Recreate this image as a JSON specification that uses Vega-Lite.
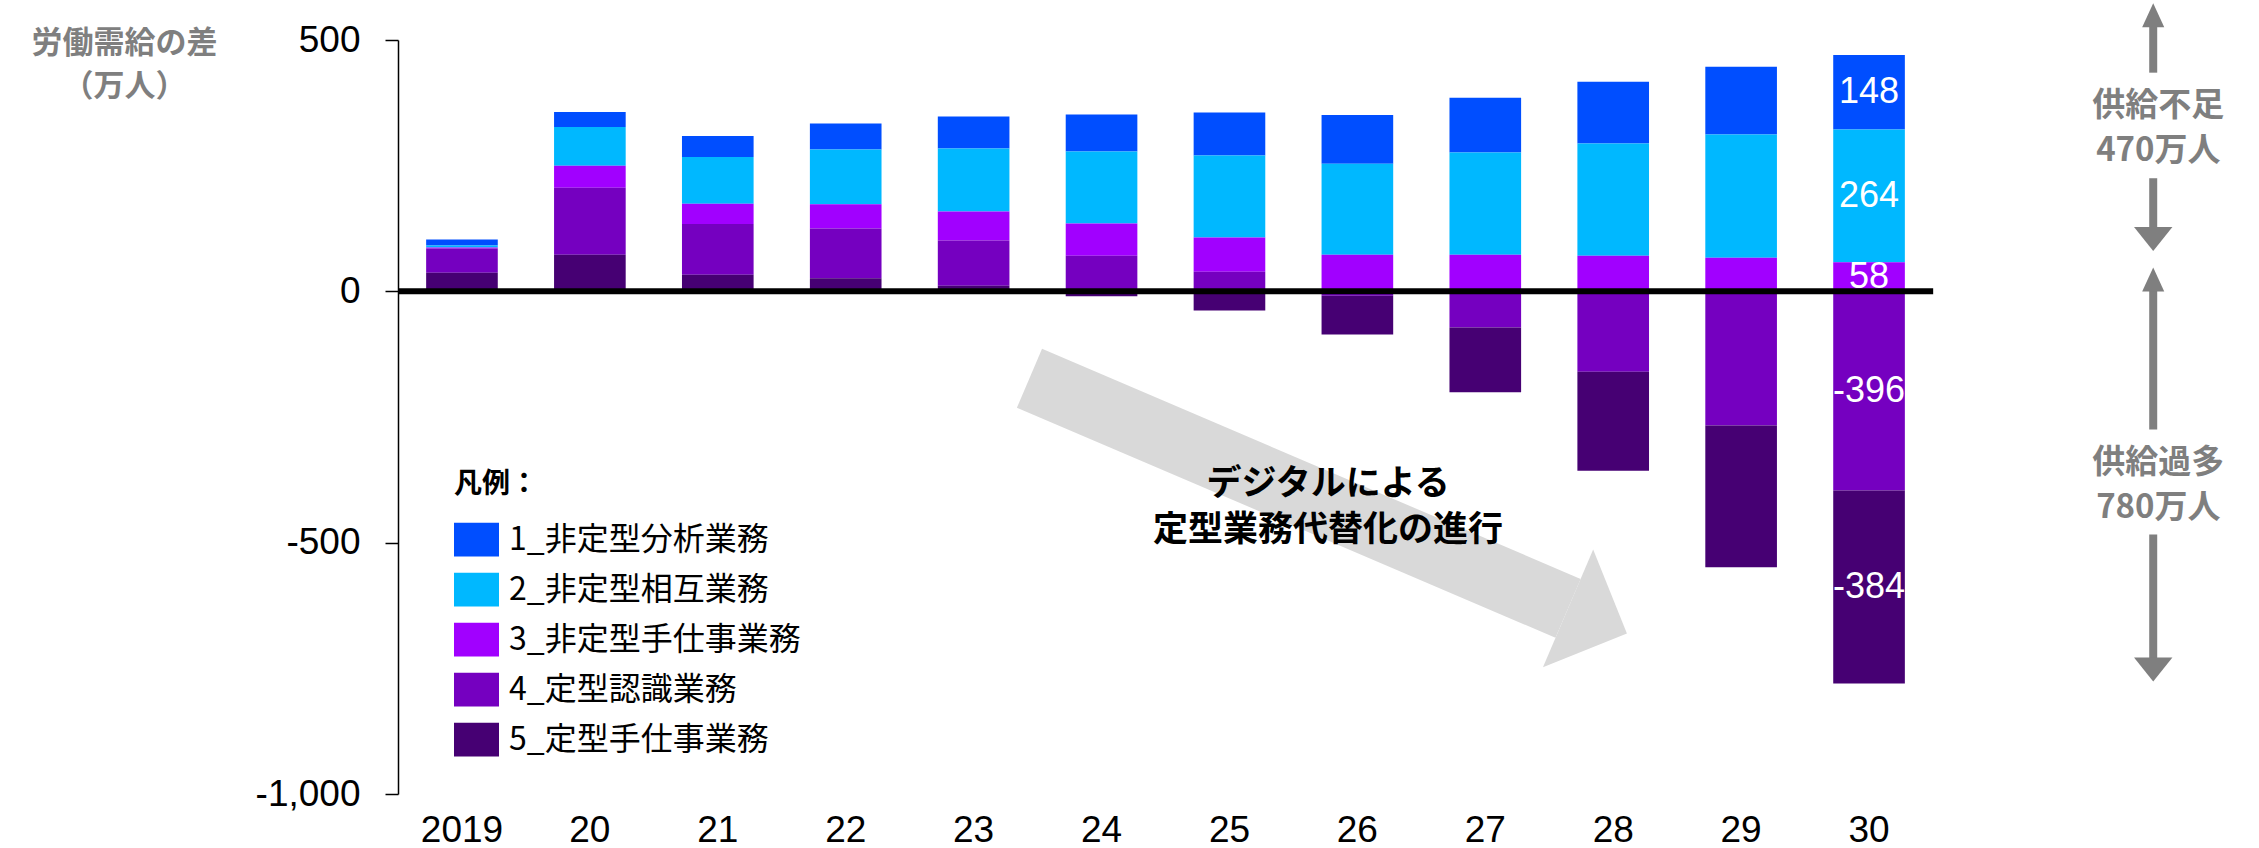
{
  "$schema": "https://vega.github.io/schema/vega-lite/v6.json",
  "width": 1855,
  "height": 754,
  "autosize": {"type": "none"},
  "padding": {"left": 398, "top": 40, "right": 6, "bottom": 54},
  "config": {
    "view": {"stroke": null},
    "font": "Liberation Sans",
    "locale": {"number": {"decimal": ".", "thousands": ",", "grouping": [3], "currency": ["$", ""], "minus": "-"}}
  },
  "datasets": {
    "需給": [
      {"年": "2019", "区分": "1_非定型分析業務", "値": 12},
      {"年": "2019", "区分": "2_非定型相互業務", "値": 4},
      {"年": "2019", "区分": "3_非定型手仕事業務", "値": 2},
      {"年": "2019", "区分": "4_定型認識業務", "値": 48},
      {"年": "2019", "区分": "5_定型手仕事業務", "値": 37},
      {"年": "20", "区分": "1_非定型分析業務", "値": 30},
      {"年": "20", "区分": "2_非定型相互業務", "値": 77},
      {"年": "20", "区分": "3_非定型手仕事業務", "値": 44},
      {"年": "20", "区分": "4_定型認識業務", "値": 133},
      {"年": "20", "区分": "5_定型手仕事業務", "値": 73},
      {"年": "21", "区分": "1_非定型分析業務", "値": 42},
      {"年": "21", "区分": "2_非定型相互業務", "値": 93},
      {"年": "21", "区分": "3_非定型手仕事業務", "値": 40},
      {"年": "21", "区分": "4_定型認識業務", "値": 101},
      {"年": "21", "区分": "5_定型手仕事業務", "値": 33},
      {"年": "22", "区分": "1_非定型分析業務", "値": 52},
      {"年": "22", "区分": "2_非定型相互業務", "値": 109},
      {"年": "22", "区分": "3_非定型手仕事業務", "値": 48},
      {"年": "22", "区分": "4_定型認識業務", "値": 99},
      {"年": "22", "区分": "5_定型手仕事業務", "値": 26},
      {"年": "23", "区分": "1_非定型分析業務", "値": 64},
      {"年": "23", "区分": "2_非定型相互業務", "値": 125},
      {"年": "23", "区分": "3_非定型手仕事業務", "値": 58},
      {"年": "23", "区分": "4_定型認識業務", "値": 90},
      {"年": "23", "区分": "5_定型手仕事業務", "値": 11},
      {"年": "24", "区分": "1_非定型分析業務", "値": 74},
      {"年": "24", "区分": "2_非定型相互業務", "値": 143},
      {"年": "24", "区分": "3_非定型手仕事業務", "値": 64},
      {"年": "24", "区分": "4_定型認識業務", "値": 71},
      {"年": "24", "区分": "5_定型手仕事業務", "値": -10},
      {"年": "25", "区分": "1_非定型分析業務", "値": 86},
      {"年": "25", "区分": "2_非定型相互業務", "値": 163},
      {"年": "25", "区分": "3_非定型手仕事業務", "値": 68},
      {"年": "25", "区分": "4_定型認識業務", "値": 39},
      {"年": "25", "区分": "5_定型手仕事業務", "値": -38},
      {"年": "26", "区分": "1_非定型分析業務", "値": 97},
      {"年": "26", "区分": "2_非定型相互業務", "値": 181},
      {"年": "26", "区分": "3_非定型手仕事業務", "値": 73},
      {"年": "26", "区分": "4_定型認識業務", "値": -9},
      {"年": "26", "区分": "5_定型手仕事業務", "値": -77},
      {"年": "27", "区分": "1_非定型分析業務", "値": 109},
      {"年": "27", "区分": "2_非定型相互業務", "値": 203},
      {"年": "27", "区分": "3_非定型手仕事業務", "値": 73},
      {"年": "27", "区分": "4_定型認識業務", "値": -72},
      {"年": "27", "区分": "5_定型手仕事業務", "値": -129},
      {"年": "28", "区分": "1_非定型分析業務", "値": 123},
      {"年": "28", "区分": "2_非定型相互業務", "値": 223},
      {"年": "28", "区分": "3_非定型手仕事業務", "値": 71},
      {"年": "28", "区分": "4_定型認識業務", "値": -160},
      {"年": "28", "区分": "5_定型手仕事業務", "値": -197},
      {"年": "29", "区分": "1_非定型分析業務", "値": 135},
      {"年": "29", "区分": "2_非定型相互業務", "値": 245},
      {"年": "29", "区分": "3_非定型手仕事業務", "値": 67},
      {"年": "29", "区分": "4_定型認識業務", "値": -267},
      {"年": "29", "区分": "5_定型手仕事業務", "値": -282},
      {"年": "30", "区分": "1_非定型分析業務", "値": 148},
      {"年": "30", "区分": "2_非定型相互業務", "値": 264},
      {"年": "30", "区分": "3_非定型手仕事業務", "値": 58},
      {"年": "30", "区分": "4_定型認識業務", "値": -396},
      {"年": "30", "区分": "5_定型手仕事業務", "値": -384}
    ],
    "灰矢印": [
      {"年位置": 2023.436, "値": -173},
      {"年位置": 2027.646, "値": -630.6}
    ],
    "灰矢印先": [
      {"年位置": 2027.646, "値": -630.6}
    ],
    "中央注記": [
      {"年位置": 2025.77, "値": -382.6, "文": "デジタルによる"},
      {"年位置": 2025.77, "値": -474, "文": "定型業務代替化の進行"}
    ],
    "右矢印軸": [
      {"年位置": 2032.22, "値": 532, "値2": 435},
      {"年位置": 2032.22, "値": 225, "値2": 122},
      {"年位置": 2032.22, "値": 6, "値2": -275},
      {"年位置": 2032.22, "値": -484, "値2": -737}
    ],
    "右矢印上": [
      {"年位置": 2032.22, "値": 549.3},
      {"年位置": 2032.22, "値": 23.3}
    ],
    "右矢印下": [
      {"年位置": 2032.22, "値": 104.3},
      {"年位置": 2032.22, "値": -752.5}
    ],
    "右注記": [
      {"年位置": 2032.26, "値": 400.9, "文": "供給不足\n470万人"},
      {"年位置": 2032.26, "値": -309.3, "文": "供給過多\n780万人"}
    ],
    "ゼロ線": [
      {"年位置": 2018.5, "年位置2": 2030.5, "値": 0}
    ]
  },
  "layer": [
    {
      "data": {"name": "需給"},
      "encoding": {
        "x": {
          "field": "年", "type": "nominal",
          "scale": {"domain": ["2019", "20", "21", "22", "23", "24", "25", "26", "27", "28", "29", "30"], "range": [0, 1535], "paddingInner": 0.44, "paddingOuter": 0.22},
          "axis": {"title": null, "domain": false, "ticks": false, "labelAngle": 0, "labelFont": "Liberation Sans", "labelFontSize": 37, "labelColor": "#000000", "labelPadding": 18}
        },
        "y": {
          "field": "値", "type": "quantitative",
          "scale": {"domain": [-1000, 500], "nice": false},
          "axis": {
            "title": ["労働需給の差", "（万人）"],
            "values": [500, 0, -500, -1000],
            "format": ",d",
            "grid": false,
            "domainColor": "#000000", "domainWidth": 1.5,
            "tickColor": "#000000", "tickSize": 13, "tickWidth": 1.5,
            "labelFont": "Liberation Sans", "labelFontSize": 37, "labelColor": "#000000", "labelPadding": 25,
            "labelFlush": false, "labelOverlap": false,
            "titleAngle": 0, "titleX": -274, "titleY": -12, "titleAlign": "center", "titleBaseline": "top",
            "titleFont": "Noto Sans CJK JP", "titleFontSize": 31, "titleFontWeight": "bold", "titleColor": "#7f7f7f", "titleLineHeight": 43
          }
        },
        "color": {
          "field": "区分", "type": "nominal",
          "scale": {
            "domain": ["1_非定型分析業務", "2_非定型相互業務", "3_非定型手仕事業務", "4_定型認識業務", "5_定型手仕事業務"],
            "range": ["#004EFF", "#00B8FF", "#A100FF", "#7500C0", "#460073"]
          },
          "legend": {
            "orient": "none", "direction": "vertical", "legendX": 56, "legendY": 431, "padding": 0,
            "title": "凡例：", "titleFont": "Noto Sans CJK JP", "titleFontSize": 28, "titleFontWeight": "bold", "titleColor": "#000000", "titlePadding": 18,
            "symbolType": "M-1,-0.75H1V0.75H-1Z", "symbolSize": 2025, "symbolStrokeWidth": 0, "symbolOpacity": 1,
            "labelFont": "Noto Sans CJK JP", "labelFontSize": 32, "labelColor": "#000000", "labelOffset": 10, "labelLimit": 0,
            "rowPadding": 10
          }
        }
      },
      "layer": [
        {
          "transform": [{"filter": "datum['値'] >= 0"}],
          "mark": {"type": "bar"},
          "encoding": {"order": {"field": "区分", "type": "ordinal", "sort": "descending"}}
        },
        {
          "transform": [{"filter": "datum['値'] < 0"}],
          "mark": {"type": "bar"},
          "encoding": {"order": {"field": "区分", "type": "ordinal", "sort": "ascending"}}
        }
      ]
    },
    {
      "layer": [
        {
          "data": {"name": "灰矢印"},
          "mark": {"type": "line", "color": "#d9d9d9", "strokeWidth": 64, "strokeCap": "butt"},
          "encoding": {
            "x": {"field": "年位置", "type": "quantitative", "scale": {"domain": [2018.5, 2033], "nice": false, "zero": false}, "axis": null},
            "y": {"field": "値", "type": "quantitative", "scale": {"domain": [-1000, 500], "nice": false}, "axis": null}
          }
        },
        {
          "data": {"name": "灰矢印先"},
          "mark": {"type": "point", "shape": "M0,-1L1,0L0,1Z", "size": 16384, "angle": 23.1, "filled": true, "color": "#d9d9d9", "opacity": 1, "strokeWidth": 0},
          "encoding": {
            "x": {"field": "年位置", "type": "quantitative", "scale": {"domain": [2018.5, 2033], "nice": false, "zero": false}, "axis": null},
            "y": {"field": "値", "type": "quantitative", "scale": {"domain": [-1000, 500], "nice": false}, "axis": null}
          }
        },
        {
          "data": {"name": "中央注記"},
          "mark": {"type": "text", "font": "Noto Sans CJK JP", "fontSize": 35, "fontWeight": "bold", "color": "#000000", "align": "center", "baseline": "middle"},
          "encoding": {
            "x": {"field": "年位置", "type": "quantitative", "scale": {"domain": [2018.5, 2033], "nice": false, "zero": false}, "axis": null},
            "y": {"field": "値", "type": "quantitative", "scale": {"domain": [-1000, 500], "nice": false}, "axis": null},
            "text": {"field": "文", "type": "nominal"}
          }
        },
        {
          "data": {"name": "右矢印軸"},
          "mark": {"type": "rule", "color": "#7f7f7f", "strokeWidth": 8},
          "encoding": {
            "x": {"field": "年位置", "type": "quantitative", "scale": {"domain": [2018.5, 2033], "nice": false, "zero": false}, "axis": null},
            "y": {"field": "値", "type": "quantitative", "scale": {"domain": [-1000, 500], "nice": false}, "axis": null},
            "y2": {"field": "値2"}
          }
        },
        {
          "data": {"name": "右矢印上"},
          "mark": {"type": "point", "shape": "M0,-1L0.92,1L-0.92,1Z", "size": 576, "filled": true, "color": "#7f7f7f", "opacity": 1, "strokeWidth": 0},
          "encoding": {
            "x": {"field": "年位置", "type": "quantitative", "scale": {"domain": [2018.5, 2033], "nice": false, "zero": false}, "axis": null},
            "y": {"field": "値", "type": "quantitative", "scale": {"domain": [-1000, 500], "nice": false}, "axis": null}
          }
        },
        {
          "data": {"name": "右矢印下"},
          "mark": {"type": "point", "shape": "M-1.6,-1L1.6,-1L0,1Z", "size": 576, "filled": true, "color": "#7f7f7f", "opacity": 1, "strokeWidth": 0},
          "encoding": {
            "x": {"field": "年位置", "type": "quantitative", "scale": {"domain": [2018.5, 2033], "nice": false, "zero": false}, "axis": null},
            "y": {"field": "値", "type": "quantitative", "scale": {"domain": [-1000, 500], "nice": false}, "axis": null}
          }
        },
        {
          "data": {"name": "右注記"},
          "mark": {"type": "text", "font": "Noto Sans CJK JP", "fontSize": 33, "fontWeight": "bold", "color": "#7f7f7f", "align": "center", "baseline": "top", "lineBreak": "\n", "lineHeight": 45},
          "encoding": {
            "x": {"field": "年位置", "type": "quantitative", "scale": {"domain": [2018.5, 2033], "nice": false, "zero": false}, "axis": null},
            "y": {"field": "値", "type": "quantitative", "scale": {"domain": [-1000, 500], "nice": false}, "axis": null},
            "text": {"field": "文", "type": "nominal"}
          }
        },
        {
          "data": {"name": "ゼロ線"},
          "mark": {"type": "rule", "color": "#000000", "strokeWidth": 6},
          "encoding": {
            "x": {"field": "年位置", "type": "quantitative", "scale": {"domain": [2018.5, 2033], "nice": false, "zero": false}, "axis": null},
            "x2": {"field": "年位置2"},
            "y": {"field": "値", "type": "quantitative", "scale": {"domain": [-1000, 500], "nice": false}, "axis": null}
          }
        }
      ]
    },
    {
      "data": {"name": "需給"},
      "encoding": {
        "x": {
          "field": "年", "type": "nominal",
          "scale": {"domain": ["2019", "20", "21", "22", "23", "24", "25", "26", "27", "28", "29", "30"], "range": [0, 1535], "paddingInner": 0.44, "paddingOuter": 0.22},
          "axis": null
        }
      },
      "layer": [
        {
          "transform": [
            {"filter": "datum['年'] === '30' && datum['値'] > 0"},
            {"stack": "値", "groupby": ["年"], "sort": [{"field": "区分", "order": "descending"}], "as": ["下端", "上端"]},
            {"fold": ["下端", "上端"], "as": ["端", "位置"]},
            {"aggregate": [{"op": "mean", "field": "位置", "as": "中点"}], "groupby": ["年", "区分", "値"]}
          ],
          "mark": {"type": "text", "font": "Liberation Sans", "fontSize": 36, "color": "#ffffff", "align": "center", "baseline": "middle"},
          "encoding": {
            "y": {"field": "中点", "type": "quantitative", "scale": {"domain": [-1000, 500], "nice": false}, "axis": null},
            "text": {"field": "値", "type": "quantitative"}
          }
        },
        {
          "transform": [
            {"filter": "datum['年'] === '30' && datum['値'] < 0"},
            {"stack": "値", "groupby": ["年"], "sort": [{"field": "区分", "order": "ascending"}], "as": ["下端", "上端"]},
            {"fold": ["下端", "上端"], "as": ["端", "位置"]},
            {"aggregate": [{"op": "mean", "field": "位置", "as": "中点"}], "groupby": ["年", "区分", "値"]}
          ],
          "mark": {"type": "text", "font": "Liberation Sans", "fontSize": 36, "color": "#ffffff", "align": "center", "baseline": "middle"},
          "encoding": {
            "y": {"field": "中点", "type": "quantitative", "scale": {"domain": [-1000, 500], "nice": false}, "axis": null},
            "text": {"field": "値", "type": "quantitative"}
          }
        }
      ]
    }
  ],
  "resolve": {"scale": {"x": "independent"}, "axis": {"x": "independent", "y": "independent"}}
}
